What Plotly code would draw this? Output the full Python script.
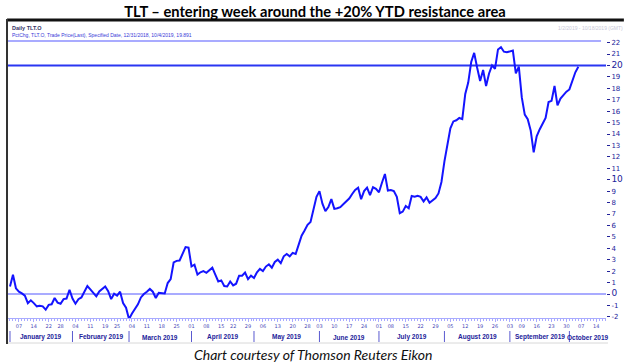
import pandas as pd
import plotly.graph_objects as go

# ---------------- data ----------------
holidays = ["2019-01-21", "2019-02-18", "2019-04-19", "2019-05-27", "2019-07-04", "2019-09-02"]
trading_days = pd.bdate_range("2019-01-02", "2019-10-18", freq="C", holidays=holidays)

# % change of TLT since 12/31/2018, one value per trading day (Jan 2 .. Oct 4 2019)
pct_change = [
    0.66, 1.68, 0.5, 0.2, 0.05, -0.15, -0.8, -0.55, -0.8, -1.08,
    -1.02, -1.08, -1.37, -0.95, -0.9, -0.35, -0.75, -0.85, -0.45, -0.4,
    0.37, -0.4, -0.85, -0.45, -0.3, 0.2, 0.7, 0.4, 0.1, -0.2,
    0.23, 0.45, 0.66, 0.25, -0.45, 0.03, -0.15, 0.2, -0.79, -1.2,
    -2.2, -1.7, -1.3, -0.9, -0.3, 0.0, 0.2, 0.44, 0.2, -0.35,
    0.1, 0.1, 0.05, 0.96, 1.3, 2.76, 2.9, 2.93, 3.6, 4.1,
    4.05, 2.41, 2.56, 1.7, 1.9, 2.0, 1.85, 2.1, 2.3, 1.7,
    1.1, 1.19, 0.7, 0.66, 1.1, 0.75, 0.9, 1.6, 1.6, 1.88,
    1.3, 1.6, 1.4, 1.9, 2.2, 2.0, 2.4, 2.6, 2.3, 2.8,
    3.0, 2.7, 3.3, 3.5, 3.3, 3.6, 3.5, 4.3, 5.1, 5.55,
    6.05, 6.3, 7.3, 8.5, 9.0, 7.9, 7.25, 7.6, 8.3, 7.45,
    7.5, 7.6, 7.85, 8.1, 8.35, 8.75, 9.1, 9.3, 8.3, 9.0,
    9.3, 8.65, 9.34, 9.2, 8.9, 9.74, 10.5, 9.05, 9.1, 9.0,
    8.5, 7.07, 7.21, 7.7, 7.5, 8.58, 8.52, 8.6, 8.5, 8.1,
    8.45, 7.99, 8.2, 8.4, 8.8, 9.8, 11.6, 12.9, 14.5, 15.1,
    15.2, 15.4, 15.3, 17.5, 18.5, 20.3, 21.1, 19.8, 18.64, 19.6,
    18.2, 19.3, 20.0, 19.7, 21.4, 21.6, 21.2, 21.15, 21.2, 21.3,
    19.3, 19.9, 17.2, 15.7, 15.3, 14.3, 12.4, 13.8, 14.4, 14.85,
    15.4, 16.8, 16.9, 18.2, 16.5, 17.1, 17.45, 17.7, 17.9, 18.6,
    19.4, 19.891,
]
resistance_level = 20
baseline_level = 0
y_ticks = list(range(-2, 23))
month_names = ["January 2019", "February 2019", "March 2019", "April 2019", "May 2019",
               "June 2019", "July 2019", "August 2019", "September 2019", "October 2019"]

title_text = "TLT \u2013 entering week around the +20% YTD resistance area"
caption_text = "Chart courtesy of Thomson Reuters Eikon"
header_name = "Daily TLT.O"
header_series = "PctChg, TLT.O, Trade Price(Last), Specified Date, 12/31/2018, 10/4/2019, 19.891"
header_range = "1/2/2019 - 10/18/2019 (GMT)"

# ---------------- derived ----------------
x_idx = list(range(len(pct_change)))
X_MIN, X_MAX = -0.67, 200.3

# week ticks: first trading day of each week from Jan 7 to Oct 14
tick_vals, tick_text = [], []
prev_week = None
for i, d in enumerate(trading_days):
    wk = d.isocalendar()[1]
    if wk != prev_week:
        if pd.Timestamp("2019-01-07") <= d <= pd.Timestamp("2019-10-14"):
            tick_vals.append(i)
            tick_text.append(d.strftime("%d"))
        prev_week = wk

# month starts
month_starts = []
for m in range(1, 11):
    idx = [i for i, d in enumerate(trading_days) if d.month == m][0]
    month_starts.append(idx)

# y tick labels
y_text = []
for v in y_ticks:
    if v in (0, 10, 20):
        y_text.append(f"<span style='font-size:9px'>{v}</span>")
    else:
        y_text.append(f"{v}")

# ---------------- figure ----------------
L, R, T, B = 8, 21, 42, 46
W, H = 631, 364
PW, PH = W - L - R, H - T - B


def px_x(px):
    return (px - L) / PW


def px_y(py):
    return (H - B - py) / PH


BLUE = "#1414ff"
DARKBLUE = "#22229a"
LIGHTBLUE = "#a9abff"
NARROW = "Liberation Sans Narrow, Liberation Sans, Arial"

fig = go.Figure()
fig.add_trace(go.Scatter(
    x=x_idx, y=pct_change, mode="lines",
    line=dict(color=BLUE, width=2), hoverinfo="skip", showlegend=False,
))

shapes = [
    dict(type="line", xref="paper", yref="y", x0=0, x1=1, y0=resistance_level, y1=resistance_level,
         line=dict(color="#2a36f2", width=2), layer="below"),
    dict(type="line", xref="paper", yref="y", x0=0, x1=1, y0=baseline_level, y1=baseline_level,
         line=dict(color=LIGHTBLUE, width=2), layer="below"),
    dict(type="line", xref="paper", yref="paper", x0=px_x(7), x1=px_x(628), y0=px_y(20), y1=px_y(20),
         line=dict(color="#111111", width=3)),
    dict(type="line", xref="paper", yref="paper", x0=px_x(7), x1=px_x(7), y0=px_y(19), y1=px_y(344),
         line=dict(color="#333333", width=2)),
    dict(type="line", xref="paper", yref="paper", x0=px_x(8), x1=px_x(605), y0=px_y(41), y1=px_y(41),
         line=dict(color=LIGHTBLUE, width=2)),
    dict(type="line", xref="paper", yref="paper", x0=px_x(8), x1=px_x(612), y0=px_y(343), y1=px_y(343),
         line=dict(color="#d8d8d8", width=1)),
]
for s in month_starts:
    shapes.append(dict(type="line", xref="x", yref="paper", x0=s, x1=s, y0=px_y(331), y1=px_y(342),
                       line=dict(color="#5a5ad0", width=1)))

annotations = []
for k, name in enumerate(month_names):
    a = month_starts[k]
    b = month_starts[k + 1] if k + 1 < len(month_starts) else X_MAX
    annotations.append(dict(x=(a + b) / 2, y=px_y(337), xref="x", yref="paper", text=f"<b>{name}</b>",
                            showarrow=False, font=dict(family=NARROW, size=6.5, color=DARKBLUE),
                            xanchor="center", yanchor="middle"))
annotations += [
    dict(x=px_x(10), y=px_y(28), xref="paper", yref="paper", text=f"<b>{header_name}</b>", showarrow=False,
         font=dict(family=NARROW, size=5.5, color="#333366"), xanchor="left", yanchor="middle"),
    dict(x=px_x(10), y=px_y(35), xref="paper", yref="paper", text=header_series, showarrow=False,
         font=dict(family=NARROW, size=5, color="#3a3ad8"), xanchor="left", yanchor="middle"),
    dict(x=px_x(629), y=px_y(28), xref="paper", yref="paper", text=header_range, showarrow=False,
         font=dict(family=NARROW, size=5, color="#c8c8d8"), xanchor="right", yanchor="middle"),
    dict(x=px_x(315), y=px_y(354), xref="paper", yref="paper", text=f"<i>{caption_text}</i>", showarrow=False,
         font=dict(family="Lato", size=14, color="#111111"), xanchor="center", yanchor="middle"),
]

fig.update_layout(
    width=W, height=H,
    margin=dict(l=L, r=R, t=T, b=B, pad=0),
    paper_bgcolor="white", plot_bgcolor="white",
    title=dict(text=f"<b>{title_text}</b>", x=315 / W, y=1 - 12 / H, xanchor="center", yanchor="middle",
               xref="container", yref="container",
               font=dict(family="Lato", size=14.7, color="#000000")),
    shapes=shapes, annotations=annotations, showlegend=False,
    xaxis=dict(range=[X_MIN, X_MAX], tickmode="array", tickvals=tick_vals, ticktext=tick_text,
               showgrid=False, zeroline=False, showline=True, linecolor=LIGHTBLUE, linewidth=1,
               ticks="outside", ticklen=3, tickcolor=LIGHTBLUE,
               tickfont=dict(family="DejaVu Sans", size=5, color="#4a4ab8"),
               minor=dict(tickmode="linear", tick0=0, dtick=1, ticklen=2, tickcolor=LIGHTBLUE, showgrid=False),
               fixedrange=True),
    yaxis=dict(range=[-2.1, 22.05], side="right", tickmode="array", tickvals=y_ticks, ticktext=y_text,
               showgrid=False, zeroline=False, showline=False,
               ticks="outside", ticklen=3, tickcolor=DARKBLUE,
               tickfont=dict(family="DejaVu Sans", size=7, color=DARKBLUE), fixedrange=True),
)

fig.write_html("out.html", config={"displayModeBar": False},
               post_script="document.body.style.margin='0';document.body.style.padding='0';")
